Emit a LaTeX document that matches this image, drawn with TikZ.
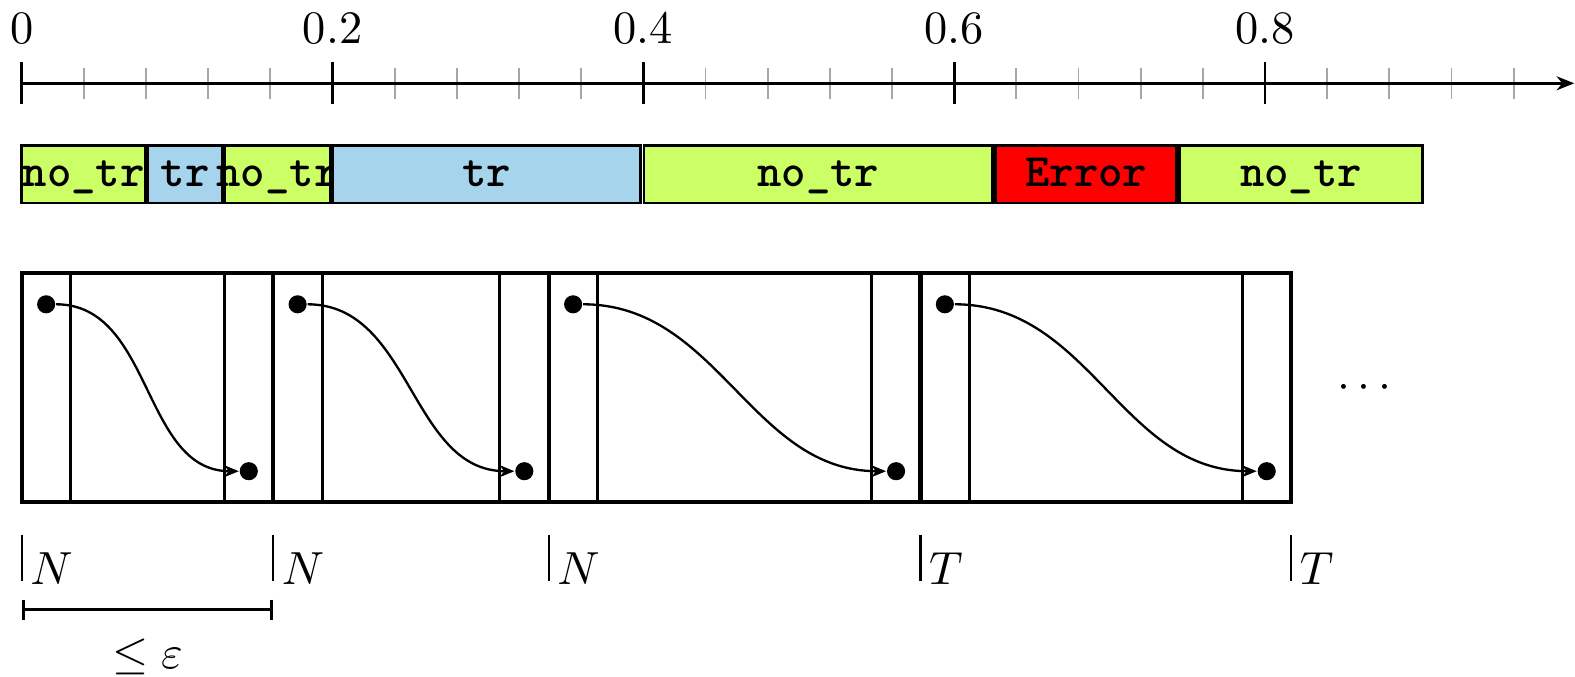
\documentclass[tikz,border=0pt]{standalone}
\usepackage{amsmath, amssymb}
\usetikzlibrary{arrows.meta}
\definecolor{notrgreen}{RGB}{204,255,102}
\definecolor{trblue}{RGB}{166,212,236}

\begin{document}
\begin{tikzpicture}[
                    x=1.176cm, y=1.176cm,
                    seg/.style={draw=black, line width=0.6pt},
                    segtext/.style={anchor=base, inner sep=0pt, font=\ttfamily\bfseries},
                    block/.style={draw=black, line width=0.9pt},
                    cell/.style={line width=0.6pt},
                    dot/.style={circle, fill=black, inner sep=0pt, minimum size=3.9pt},
                    flow/.style={-{Stealth[length=3.2pt, width=2.6pt]}, line width=0.5pt},
                    tickmark/.style={line width=0.5pt},
                    lbl/.style={anchor=base west, inner sep=0pt}
                ]
                    \useasboundingbox (-0.14,-3.814) rectangle (9.995,0.536);

                    \foreach \j in {0,...,4}
                        \foreach \i in {1,...,4}
                            \draw[black!35, line width=0.4pt] ({2*\j+0.4*\i},0.1) -- ({2*\j+0.4*\i},-0.1);
                    \draw[line width=0.6pt, -{Stealth[length=3.8pt, width=3pt]}] (0,0) -- (9.99,0);
                    \foreach \x/\v in {0/0, 2/0.2, 4/0.4, 6/0.6, 8/0.8} {
                        \draw[line width=0.6pt] (\x,0.139) -- (\x,-0.135);
                        \node[anchor=base] (tick\x) at (\x,0.257) {\v};
                    }

                    \foreach \a/\b/\c/\txt [count=\i] in {0/0.798/notrgreen/no\_tr, 0.81/1.293/trblue/tr, 1.308/1.984/notrgreen/no\_tr, 2.0/3.983/trblue/tr, 4.004/6.246/notrgreen/no\_tr, 6.268/7.432/red/Error, 7.449/9.015/notrgreen/no\_tr} {
                        \draw[seg, fill=\c] (\a,-0.4) rectangle (\b,-0.77);
                        \node[segtext] (s\i) at ({(\a+\b)/2},-0.665) {\txt};
                    }

                    \foreach \a/\b/\i in {0/1.618/1, 1.618/3.391/2, 3.391/5.783/3, 5.783/8.168/4} {
                        \draw[block] (\a,-1.222) rectangle (\b,-2.696);
                        \draw[cell] ({\a+0.315},-1.222) -- ({\a+0.315},-2.696) ({\b-0.315},-1.222) -- ({\b-0.315},-2.696);
                        \node[dot] (start\i) at ({\a+0.157},-1.422) {};
                        \node[dot] (end\i) at ({\b-0.157},-2.496) {};
                        \draw[flow] (start\i) to[out=0, in=180] (end\i);
                    }
                    \node[anchor=base] (more) at (8.664,-2.028) {$\cdots$};

                    \foreach \x/\l [count=\i] in {0/N, 1.618/N, 3.391/N, 5.783/T, 8.168/T} {
                        \draw[tickmark] (\x,-2.909) -- (\x,-3.2);
                        \node[lbl] (lab\i) at ({\x+0.05},-3.222) {$\l$};
                    }

                    \coordinate (e0) at (0,-3.387);
                    \coordinate (e1) at (1.618,-3.387);
                    \draw[{Bar[width=4.3pt]}-{Bar[width=4.3pt]}, line width=0.6pt] (e0) -- (e1);
                    \node[anchor=base] (eps) at (0.809,-3.767) {$\leq \varepsilon$};

                \end{tikzpicture}
\end{document}
